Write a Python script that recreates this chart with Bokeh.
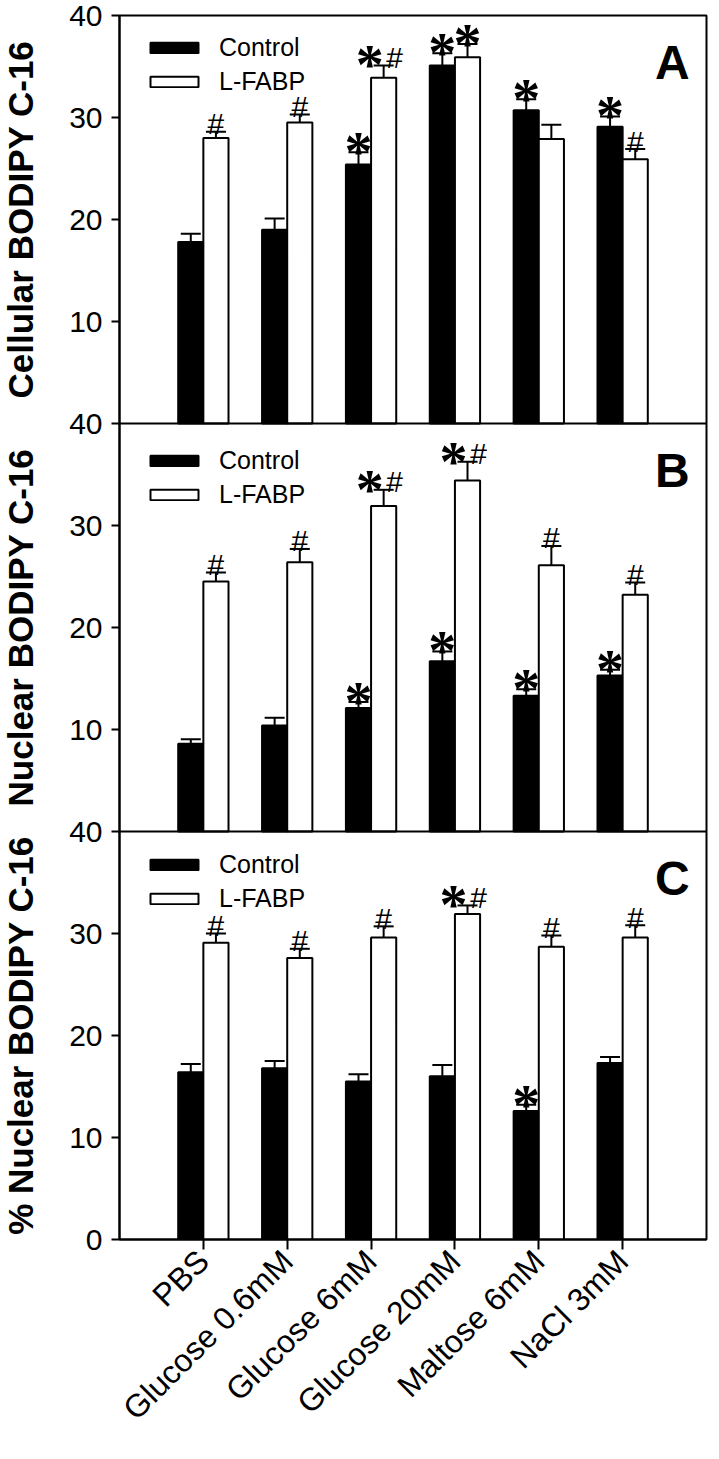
import math
from bokeh.plotting import figure
from bokeh.layouts import row
from bokeh.models import (Range1d, FixedTicker, Legend, LegendItem, Label, Span,
                          ColumnDataSource)
from bokeh.core.properties import value
from bokeh.embed import file_html
from bokeh.resources import INLINE

categories = ["PBS", "Glucose 0.6mM", "Glucose 6mM", "Glucose 20mM", "Maltose 6mM", "NaCl 3mM"]
series_names = ["Control", "L-FABP"]
y_tick_labels = ["10", "20", "30", "40"]

# Panel A: Cellular BODIPY C-16
a_control = [17.8, 19.0, 25.4, 35.1, 30.7, 29.1]
a_control_err = [0.8, 1.1, 1.2, 1.2, 1.1, 1.0]
a_lfabp = [28.0, 29.5, 33.9, 35.9, 27.9, 25.9]
a_lfabp_err = [0.6, 0.8, 1.2, 1.3, 1.4, 1.0]
a_control_sig = ["", "", "*", "*", "*", "*"]
a_lfabp_sig = ["#", "#", "*#", "*", "", "#"]

# Panel B: Nuclear BODIPY C-16
b_control = [8.6, 10.4, 12.1, 16.7, 13.3, 15.3]
b_control_err = [0.45, 0.75, 0.6, 0.95, 0.65, 0.55]
b_lfabp = [24.5, 26.4, 31.9, 34.4, 26.1, 23.2]
b_lfabp_err = [0.9, 1.3, 1.6, 1.85, 1.9, 1.2]
b_control_sig = ["", "", "*", "*", "*", "*"]
b_lfabp_sig = ["#", "#", "*#", "*#", "#", "#"]

# Panel C: % Nuclear BODIPY C-16
c_control = [16.4, 16.8, 15.5, 16.0, 12.6, 17.3]
c_control_err = [0.8, 0.7, 0.7, 1.1, 0.6, 0.6]
c_lfabp = [29.1, 27.6, 29.6, 31.9, 28.7, 29.6]
c_lfabp_err = [0.9, 0.9, 1.1, 0.85, 1.1, 1.2]
c_control_sig = ["", "", "", "", "*", ""]
c_lfabp_sig = ["#", "#", "#", "*#", "#", "#"]

panels = [
    ("A", "Cellular BODIPY C-16", "A", a_control, a_control_err, a_lfabp, a_lfabp_err, a_control_sig, a_lfabp_sig),
    ("B", "Nuclear BODIPY C-16", "B", b_control, b_control_err, b_lfabp, b_lfabp_err, b_control_sig, b_lfabp_sig),
    ("C", "% Nuclear BODIPY C-16", "default", c_control, c_control_err, c_lfabp, c_lfabp_err, c_control_sig, c_lfabp_sig),
]

FONT = "Liberation Sans"
BAR_W = 0.3
PANEL_MAX = 40
H = 1443
TOP, BOTTOM = 15, 204
LABEL_W = 45

yrange = Range1d(0, 3 * PANEL_MAX)
p = figure(width=711 - LABEL_W, height=H, x_range=Range1d(0, len(categories) + 1),
           y_range=yrange, output_backend="svg", toolbar_location=None,
           min_border_left=119 - LABEL_W, min_border_right=5, min_border_top=TOP,
           min_border_bottom=BOTTOM)
p.extra_y_ranges = {"A": Range1d(-2 * PANEL_MAX, PANEL_MAX), "B": Range1d(-PANEL_MAX, 2 * PANEL_MAX)}
p.xgrid.visible = False
p.ygrid.visible = False
p.outline_line_color = "black"
p.outline_line_width = 2
p.background_fill_color = "white"
p.border_fill_color = "white"

# x axis
xpos = list(range(1, len(categories) + 1))
p.xaxis.ticker = FixedTicker(ticks=xpos)
p.xaxis.major_label_overrides = {x: c for x, c in zip(xpos, categories)}
p.xaxis.major_label_orientation = math.pi / 4
p.xaxis.major_tick_out = 10
p.xaxis.major_tick_in = 0
p.xaxis.minor_tick_line_color = None
p.xaxis.axis_line_width = 2
p.xaxis.major_tick_line_width = 2
p.xaxis.major_label_text_font = FONT
p.xaxis.major_label_text_font_size = "32px"
p.xaxis.major_label_text_color = "black"
p.xaxis.major_label_standoff = 6

# y axis (one axis, three stacked panels)
yticks = list(range(0, 3 * PANEL_MAX + 1, 10))
overrides = {0: "0"}
for k in range(3):
    for j, lab in enumerate(y_tick_labels):
        overrides[k * PANEL_MAX + (j + 1) * 10] = lab
p.yaxis.ticker = FixedTicker(ticks=yticks)
p.yaxis.major_label_overrides = overrides
p.yaxis.major_tick_out = 8
p.yaxis.major_tick_in = 0
p.yaxis.minor_tick_line_color = None
p.yaxis.axis_line_width = 2
p.yaxis.major_tick_line_width = 2
p.yaxis.major_label_text_font = FONT
p.yaxis.major_label_text_font_size = "30px"
p.yaxis.major_label_text_color = "black"
p.yaxis.major_label_standoff = 9

for loc in (PANEL_MAX, 2 * PANEL_MAX):
    p.add_layout(Span(location=loc, dimension="width", line_color="black", line_width=2))

legend_locs = {"A": (25, 1143), "B": (25, 730), "C": (25, 326)}

for letter, ylabel, rname, ctrl, ctrl_err, lf, lf_err, ctrl_sig, lf_sig in panels:
    xc = [x - BAR_W / 2 for x in xpos]
    xl = [x + BAR_W / 2 for x in xpos]
    rc = p.vbar(x=xc, top=ctrl, bottom=0, width=BAR_W, fill_color="black",
                line_color="black", line_width=2, y_range_name=rname)
    rl = p.vbar(x=xl, top=lf, bottom=0, width=BAR_W, fill_color="white",
                line_color="black", line_width=2, y_range_name=rname)
    # error bars (upper only)
    for xs, vals, errs in ((xc, ctrl, ctrl_err), (xl, lf, lf_err)):
        tops = [v + e for v, e in zip(vals, errs)]
        p.segment(x0=xs, y0=vals, x1=xs, y1=tops, line_color="black", line_width=2,
                  y_range_name=rname)
        p.dash(x=xs, y=tops, size=20, line_color="black", line_width=2,
               y_range_name=rname)
    # significance marks
    sx, sy, so, hx, hy, ho = [], [], [], [], [], []
    for xs, vals, errs, sigs in ((xc, ctrl, ctrl_err, ctrl_sig), (xl, lf, lf_err, lf_sig)):
        for x, v, e, s in zip(xs, vals, errs, sigs):
            both = ("*" in s) and ("#" in s)
            if "*" in s:
                sx.append(x); sy.append(v + e); so.append(-14 if both else 0)
            if "#" in s:
                hx.append(x); hy.append(v + e); ho.append(11 if both else 0)
    if sx:
        src = ColumnDataSource(dict(x=sx, y=sy, xo=so, t=["*"] * len(sx)))
        p.text(x="x", y="y", text="t", x_offset="xo", y_offset=0, source=src,
               text_font=value("Liberation Serif"), text_font_style="bold",
               text_font_size="56px",
               text_align="center", text_baseline="alphabetic", text_color="black",
               y_range_name=rname)
    if hx:
        src = ColumnDataSource(dict(x=hx, y=hy, xo=ho, t=["#"] * len(hx)))
        p.text(x="x", y="y", text="t", x_offset="xo", y_offset=-8, source=src,
               text_font=value(FONT), text_font_size="30px",
               text_align="center", text_baseline="alphabetic", text_color="black",
               y_range_name=rname)

    leg = Legend(items=[LegendItem(label=series_names[0], renderers=[rc]),
                        LegendItem(label=series_names[1], renderers=[rl])],
                 location=legend_locs[letter], orientation="vertical",
                 glyph_width=60, glyph_height=13, label_standoff=15, spacing=5,
                 padding=0, margin=0, border_line_alpha=0, background_fill_alpha=0,
                 label_text_font=FONT, label_text_font_size="25px",
                 label_text_color="black")
    p.add_layout(leg)

    p.add_layout(Label(x=6.8, y=35.4, y_range_name=rname, text=letter, text_align="right",
                       text_baseline="alphabetic", text_font=FONT, text_font_style="bold",
                       text_font_size="48px", text_color="black"))

# narrow figure on the left that carries the three vertical axis titles
# (its frame is aligned with the main plot's frame by the row layout)
q = figure(width=LABEL_W, height=H, x_range=Range1d(0, 1), y_range=yrange,
           output_backend="svg", toolbar_location=None,
           min_border_left=0, min_border_right=0, min_border_top=TOP,
           min_border_bottom=BOTTOM)
q.axis.visible = False
q.grid.visible = False
q.outline_line_color = None
q.background_fill_color = "white"
q.border_fill_color = "white"
ylabels = [pn[1] for pn in panels]
centers = [(2 - k) * PANEL_MAX + PANEL_MAX / 2 for k in range(3)]
q.text(x=[0.45] * 3, y=centers, text=ylabels, angle=math.pi / 2,
       text_align="center", text_baseline="middle", text_font=value(FONT),
       text_font_style="bold", text_font_size="35px", text_color="black")

layout = row(q, p)
open("out.html", "w").write(file_html(layout, INLINE))
